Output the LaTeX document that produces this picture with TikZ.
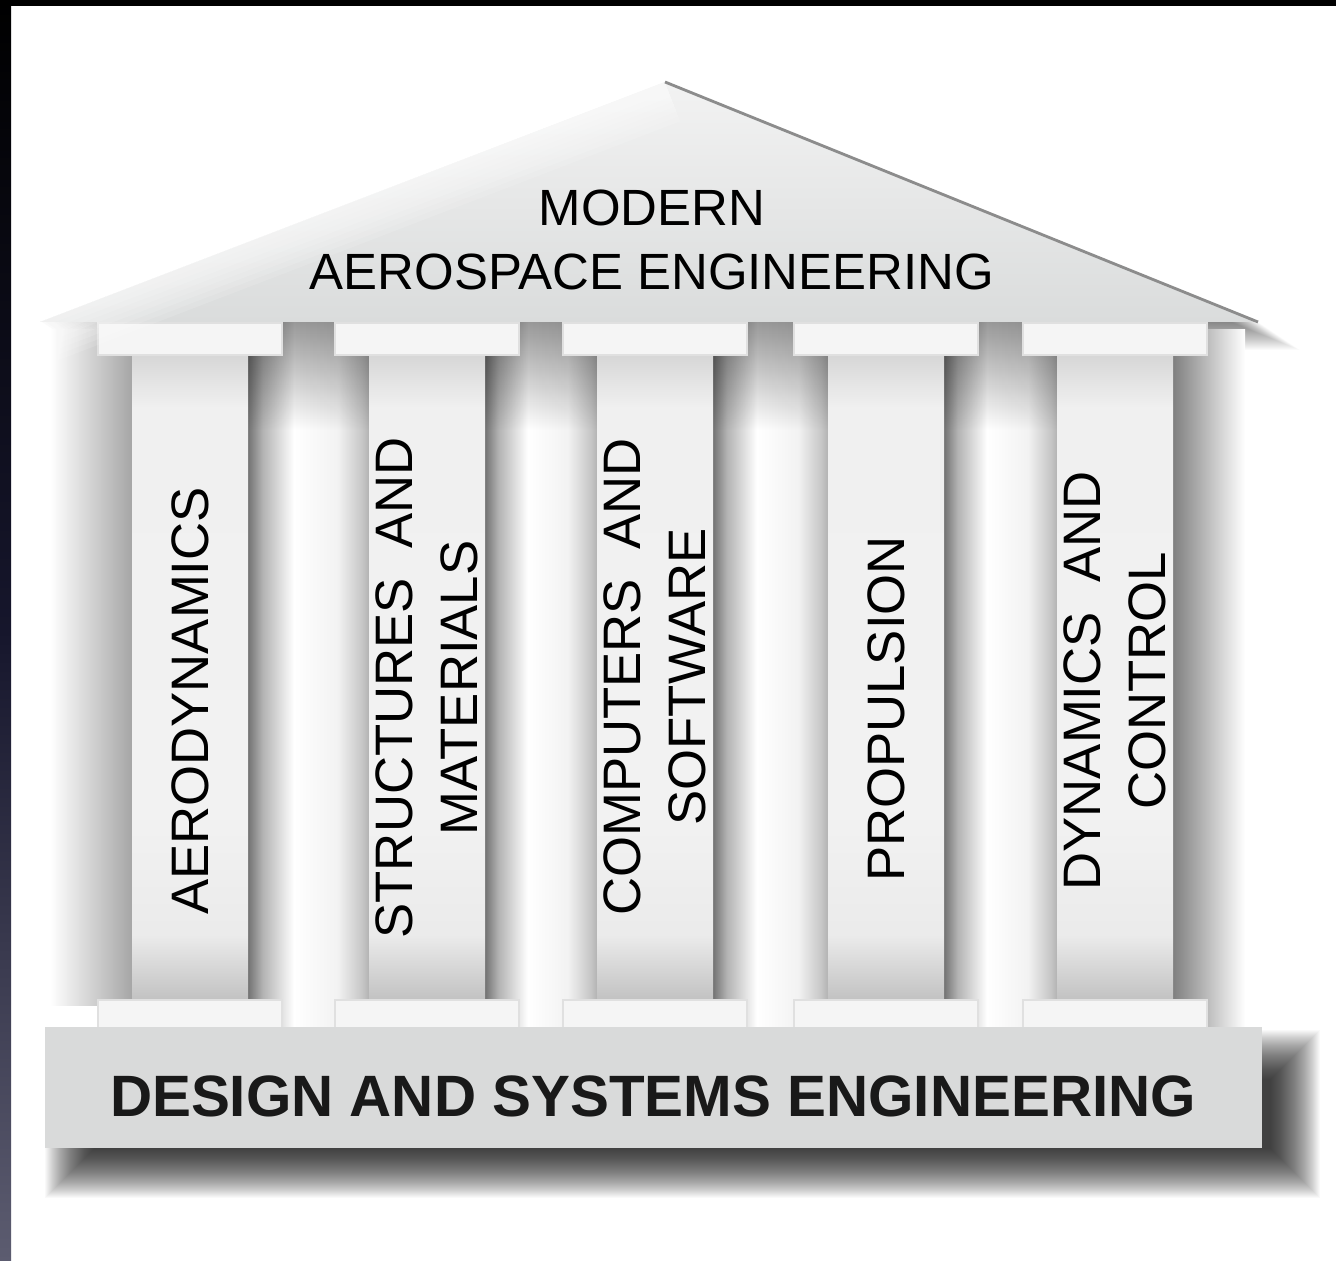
\documentclass[tikz,border=0pt]{standalone}
\usepackage{fontspec}
\setmainfont{Liberation Sans}
\usetikzlibrary{fadings}
\tikzstyle{temple} = [x = .1mm, y = -.1mm]
\definecolor{roofColor}{RGB}{218,220,220}
\definecolor{slabColor}{RGB}{217,218,218}
\definecolor{capColor}{RGB}{245,245,245}
\definecolor{frameColor}{RGB}{92,92,112}
\definecolor{frameMid}{RGB}{22,22,44}
\tikzstyle{capStyle} = [fill=capColor, draw=black!12, thin]
\tikzstyle{shaftText} = [font=\fontsize{15}{18.4}\selectfont, align=center, rotate=90, text=black]
\tikzstyle{roofText} = [font=\fontsize{14.5}{18.4}\selectfont, align=center, text=black]
\tikzstyle{baseText} = [font=\fontsize{16.6}{20}\selectfont\bfseries, text=black!90]
\pgfdeclarehorizontalshading{gapShading}{100bp}{color(0bp)=(black!55); color(25bp)=(black!55);
  color(31bp)=(black!30); color(44bp)=(white); color(62bp)=(black!5); color(72bp)=(black!22);
  color(75bp)=(black!30); color(100bp)=(black!30)}
\pgfdeclareverticalshading{shaftShading}{100bp}{color(0bp)=(black!24); color(25bp)=(black!24);
  color(30bp)=(black!8); color(40bp)=(black!5); color(71bp)=(black!6); color(75bp)=(black!16);
  color(100bp)=(black!16)}
\tikzfading[name=fadeDown, top color=transparent!0, bottom color=transparent!100]
% one pillar: shaft, capital, plinth and its label
\newcommand{\pillar}[4]{
  \shade[shading=shaftShading] (#2 - 58, 355) rectangle + (116, 645);
  \filldraw[capStyle] (#2 - 92, 323) rectangle + (184, 32);
  \filldraw[capStyle] (#2 - 92, 1000) rectangle + (184, 28);
  \node[shaftText] (#1) at (#2, #3) {#4};
}
% shadow between two pillars
\newcommand{\pillarGap}[2]{
  \shade[shading=gapShading] (#1 + 58, 322) rectangle (#2 - 58, 1028);
  \fill[black, opacity=.4, path fading=fadeDown] (#1 + 58, 322) rectangle (#2 - 58, 430);
}

\begin{document}
\begin{tikzpicture}[temple]
  \useasboundingbox (0,0) rectangle (1336,1261);
  \fill[white] (0,0) rectangle (1336,1261);
  \fill[black] (0,0) rectangle (1336,6);
  \shade[top color=black, bottom color=frameColor, middle color=frameMid] (0,0) rectangle (11,1261);

  \coordinate (roofLeft) at (40, 322);
  \coordinate (roofTop) at (665, 82);
  \coordinate (roofRight) at (1258, 322);

  % soft shadows under base and roof
  \foreach \k in {0,...,49}
    \fill[black, opacity=.025] (45 + \k, 1030 + \k) rectangle (1320 - \k, 1198 - \k);
  \foreach \k in {1,...,28}
    \fill[black, opacity=.02] (40 + 1.5*\k, 322 + \k) -- (665 + 1.5*\k, 82 + \k) -- (1258 + 1.5*\k, 322 + \k) -- cycle;

  \shade[left color=white, right color=black!35] (50, 330) rectangle (132, 1005);
  \shade[left color=black!50, right color=white] (1173, 330) rectangle (1245, 1030);
  \pillarGap{190}{427}
  \pillarGap{427}{655}
  \pillarGap{655}{886}
  \pillarGap{886}{1115}

  \pillar{aero}{190}{701}{AERODYNAMICS}
  \pillar{struct}{427}{688}{STRUCTURES\ \ AND\\MATERIALS}
  \pillar{comp}{655}{677}{COMPUTERS\ \ AND\\SOFTWARE}
  \pillar{prop}{886}{709}{PROPULSION}
  \pillar{dyn}{1115}{681}{DYNAMICS\ \ AND\\CONTROL}

  % roof
  \shade[top color=black!5, bottom color=roofColor] (roofLeft) -- (roofTop) -- (roofRight) -- cycle;
  \foreach \w in {1,...,8}
    \draw[white, opacity=.12, line width=\w * 3pt] (roofLeft) -- (roofTop);
  \draw[black!45, line width=.8pt] (roofTop) -- (roofRight);
  \node[roofText] (roofTitle) at (652, 240) {MODERN\\AEROSPACE ENGINEERING};

  % base
  \fill[slabColor] (45, 1027) rectangle (1262, 1148);
  \node[baseText] (baseTitle) at (653, 1096) {DESIGN AND SYSTEMS ENGINEERING};
\end{tikzpicture}
\end{document}
